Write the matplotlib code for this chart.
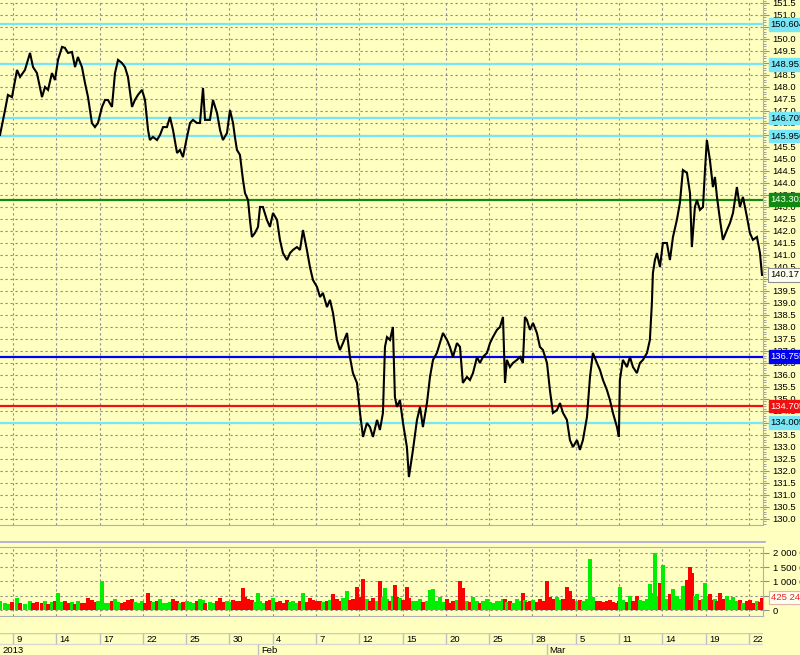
import numpy as np
import matplotlib
matplotlib.use('Agg')
import matplotlib.pyplot as plt
import matplotlib.transforms as mtransforms
from matplotlib.ticker import MultipleLocator, FixedLocator, FuncFormatter
from matplotlib.lines import Line2D

# time in trading days counted from 9 Jan 2013
t = [-0.90, -0.55, -0.35, -0.07, 0.28, 0.49, 0.83, 1.18, 1.39, 1.66,
     2.01, 2.22, 2.43, 2.70, 2.91, 3.12, 3.40, 3.60, 3.81, 4.09,
     4.30, 4.50, 4.78, 4.99, 5.20, 5.47, 5.68, 5.89, 6.17, 6.38,
     6.58, 6.86, 7.07, 7.28, 7.55, 7.76, 7.97, 8.25, 8.45, 8.66,
     8.94, 9.15, 9.36, 9.49, 9.70, 9.98, 10.19, 10.40, 10.67, 10.88,
     11.09, 11.37, 11.57, 11.78, 12.06, 12.27, 12.47, 12.75, 12.96, 13.17,
     13.31, 13.65, 13.86, 14.14, 14.35, 14.55, 14.83, 15.04, 15.25, 15.38,
     15.52, 15.73, 15.94, 16.08, 16.29, 16.42, 16.56, 16.77, 16.98, 17.12,
     17.32, 17.60, 17.81, 18.02, 18.30, 18.50, 18.71, 18.99, 19.20, 19.40,
     19.68, 19.89, 20.10, 20.37, 20.58, 20.79, 21.07, 21.28, 21.48, 21.76,
     21.97, 22.18, 22.45, 22.66, 22.87, 23.15, 23.35, 23.56, 23.84, 24.05,
     24.26, 24.53, 24.74, 24.95, 25.23, 25.43, 25.64, 25.78, 25.92, 26.13,
     26.33, 26.47, 26.61, 26.82, 27.03, 27.30, 27.44, 27.72, 28.00, 28.21,
     28.41, 28.69, 28.90, 29.11, 29.38, 29.59, 29.80, 30.08, 30.28, 30.49,
     30.77, 30.98, 31.18, 31.46, 31.67, 31.88, 32.16, 32.36, 32.57, 32.85,
     33.06, 33.26, 33.54, 33.75, 33.96, 34.10, 34.23, 34.44, 34.65, 34.93,
     35.14, 35.34, 35.48, 35.62, 35.83, 36.04, 36.31, 36.52, 36.73, 37.01,
     37.21, 37.42, 37.70, 37.91, 38.12, 38.39, 38.60, 38.81, 39.09, 39.29,
     39.50, 39.78, 39.99, 40.19, 40.47, 40.68, 40.89, 41.16, 41.37, 41.58,
     41.86, 41.99, 42.06, 42.27, 42.55, 42.76, 42.97, 43.24, 43.45, 43.66,
     43.94, 44.14, 44.28, 44.35, 44.49, 44.63, 44.84, 45.04, 45.32, 45.53,
     45.74, 46.01, 46.22, 46.43, 46.71, 46.92, 47.05, 47.26, 47.40, 47.61,
     47.82, 47.96, 48.09, 48.30, 48.51, 48.65, 48.79, 49.00, 49.20, 49.48,
     49.69, 49.90, 50.17, 50.38, 50.59, 50.87, 51.07, 51.28, 51.56, 51.77,
     51.91]

close = [146.00, 147.04, 147.67, 147.58, 148.71, 148.42, 148.71, 149.42, 148.83, 148.58,
         147.58, 148.00, 147.88, 148.58, 148.29, 149.13, 149.67, 149.63, 149.42, 149.46,
         148.83, 149.25, 148.83, 148.17, 147.58, 146.50, 146.33, 146.50, 147.17, 147.46,
         147.46, 147.17, 148.58, 149.13, 149.00, 148.83, 148.42, 147.17, 147.46, 147.67,
         147.88, 147.46, 146.21, 145.79, 145.92, 145.79, 146.00, 146.33, 146.33, 146.75,
         146.21, 145.25, 145.38, 145.08, 145.92, 146.50, 146.63, 146.50, 146.50, 147.96,
         146.63, 146.63, 147.46, 146.92, 146.21, 145.79, 146.08, 147.04, 146.50, 145.92,
         145.38, 145.17, 144.13, 143.58, 143.29, 142.46, 141.75, 141.92, 142.17, 143.00,
         143.00, 142.46, 142.17, 142.75, 142.46, 141.63, 141.08, 140.79, 141.08, 141.21,
         141.33, 141.21, 142.04, 141.21, 140.50, 139.96, 139.67, 139.25, 139.42, 138.83,
         139.13, 138.58, 137.46, 137.04, 137.33, 137.75, 136.75, 136.08, 135.67, 134.42,
         133.42, 134.00, 133.83, 133.42, 134.13, 133.71, 134.42, 137.17, 137.58, 137.46,
         138.00, 135.08, 134.67, 134.96, 134.00, 133.00, 131.75, 132.88, 134.13, 134.67,
         133.83, 134.83, 135.92, 136.63, 136.92, 137.33, 137.75, 137.46, 137.17, 136.75,
         137.33, 137.17, 135.67, 135.92, 135.79, 136.08, 136.75, 136.50, 136.75, 136.92,
         137.33, 137.58, 137.88, 138.00, 138.42, 135.67, 136.63, 136.33, 136.50, 136.63,
         136.75, 136.50, 138.42, 138.29, 137.88, 138.17, 137.75, 137.17, 137.04, 136.50,
         135.38, 134.42, 134.54, 134.83, 134.42, 134.13, 133.29, 133.00, 133.29, 132.88,
         133.29, 134.25, 135.92, 136.92, 136.50, 136.21, 135.79, 135.38, 134.96, 134.42,
         133.83, 133.42, 135.79, 136.63, 136.33, 136.75, 136.33, 136.08, 136.50, 136.63,
         136.92, 137.46, 139.00, 140.25, 140.79, 141.08, 140.50, 141.50, 141.50, 140.79,
         141.75, 142.46, 143.17, 144.54, 144.42, 143.58, 141.33, 143.00, 143.29, 142.88,
         143.00, 144.54, 145.79, 144.96, 143.83, 144.25, 143.42, 142.46, 141.63, 142.04,
         142.33, 142.75, 143.83, 143.00, 143.42, 142.58, 141.92, 141.63, 141.75, 141.08,
         140.17]

# volume, thousands of shares
volume_k = [300, 250, 220, 280, 420, 260, 200, 310, 240, 280,
            230, 300, 210, 270, 330, 600, 280, 320, 250, 290,
            220, 310, 260, 240, 420, 350, 280, 300, 1020, 260,
            230, 310, 400, 270, 250, 290, 350, 400, 280, 230,
            300, 260, 600, 320, 280, 300, 400, 260, 240, 280,
            400, 300, 250, 270, 330, 280, 240, 300, 380, 350,
            260, 280, 240, 300, 420, 270, 310, 280, 350, 260,
            330, 300, 770, 450, 380, 300, 350, 280, 600, 330,
            260, 300, 350, 420, 280, 310, 260, 340, 280, 300,
            250, 330, 600, 290, 420, 350, 300, 330, 280, 310,
            350, 550, 380, 320, 420, 670, 350, 400, 800, 450,
            1100, 380, 330, 420, 300, 1000, 450, 770, 380, 330,
            500, 880, 450, 420, 350, 800, 420, 330, 300, 380,
            280, 320, 700, 720, 300, 450, 280, 400, 250, 300,
            350, 1000, 780, 300, 280, 450, 300, 260, 330, 400,
            280, 250, 300, 330, 400, 380, 280, 300, 250, 400,
            300, 600, 350, 280, 300, 350, 280, 400, 330, 1000,
            450, 380, 450, 350, 400, 800, 650, 400, 330, 350,
            300, 400, 1780, 450, 300, 330, 280, 300, 350, 280,
            250, 300, 800, 350, 280, 500, 300, 500, 350, 300,
            400, 900, 600, 350, 2000, 500, 950, 1580, 400, 550,
            750, 500, 400, 850, 1050, 1500, 1300, 500, 550, 350,
            400, 950, 500, 550, 350, 400, 300, 600, 400, 500,
            350, 450, 300, 350, 250, 300, 350, 250, 300, 280,
            425.248]

day_ticks = [0, 3, 6, 9, 12, 15, 18, 21, 24, 27, 30, 33, 36, 39, 42, 45, 48, 51]
day_labels = ['9', '14', '17', '22', '25', '30', '4', '7', '12', '15',
              '20', '25', '28', '5', '11', '14', '19', '22']
month_starts = [-0.9, 17, 37]
month_labels = ['2013', 'Feb', 'Mar']

levels = [150.6045, 148.9518, 146.7057, 145.9563, 143.3029, 136.7559, 134.7058, 134.0053]
level_kinds = ['cyan', 'cyan', 'cyan', 'cyan', 'green', 'blue', 'red', 'cyan']

BG = '#FFFFC0'
GRID = '#8c8c8c'
BORDER = '#b0b0b0'
kind_style = {
    'cyan': ('#78E6F6', 'black'),
    'green': ('#108a10', 'white'),
    'blue': ('#0000EE', 'white'),
    'red': ('#F01010', 'white'),
}
FS = 6.8

plt.rcParams['font.family'] = ['Liberation Sans Narrow', 'Liberation Sans', 'DejaVu Sans']
plt.rcParams['font.size'] = FS

W, H = 800, 655


def px_rect(x0, y0, x1, y1):
    return [x0 / W, 1 - y1 / H, (x1 - x0) / W, (y1 - y0) / H]


fig = plt.figure(figsize=(W / 100, H / 100), dpi=100, facecolor=BG)
ax = fig.add_axes(px_rect(0, 0, 763, 525), facecolor=BG)
axv = fig.add_axes(px_rect(0, 547, 763, 616), facecolor=BG, sharex=ax)
axd = fig.add_axes(px_rect(0, 633, 763, 655), facecolor=BG, sharex=ax)

# --- price panel
ax.plot(t, close, color='black', lw=1.5, solid_joinstyle='miter', zorder=4)
ax.set_xlim(-0.9, 51.98)
ax.set_ylim(129.75, 151.625)
ax.yaxis.tick_right()
ax.yaxis.set_major_locator(MultipleLocator(0.5))
ax.yaxis.set_minor_locator(MultipleLocator(0.1))
ax.yaxis.set_major_formatter(FuncFormatter(lambda v, p: f'{v:.1f}'))
ax.set_xticks(day_ticks)
ax.tick_params(axis='x', length=0, labelbottom=False)
ax.tick_params(axis='y', which='major', length=4, pad=3, color='#909090', labelsize=FS)
ax.tick_params(axis='y', which='minor', length=2, color='#909090')
ax.grid(True, which='major', color=GRID, linestyle=(0, (2, 2.5)), lw=0.8)
for s in ['left', 'top']:
    ax.spines[s].set_visible(False)
for s in ['right', 'bottom']:
    ax.spines[s].set_color(BORDER)

lbl_tr = mtransforms.blended_transform_factory(ax.transAxes, ax.transData)
for lv, kind in zip(levels, level_kinds):
    col, tcol = kind_style[kind]
    ax.axhline(lv, color=col, lw=1.6, zorder=3)
    ax.text(1.010, lv, f'{lv:.4f}', transform=lbl_tr, ha='left', va='center',
            color=tcol, fontsize=FS, clip_on=False, zorder=6,
            bbox=dict(boxstyle='square,pad=0.2', fc=col, ec=col))

ax.text(1.010, close[-1], f'{close[-1]:.2f}', transform=lbl_tr, ha='left', va='center',
        color='black', fontsize=FS, clip_on=False, zorder=6,
        bbox=dict(boxstyle='square,pad=0.25', fc='#FFFFF0', ec='#909090', lw=0.8))

# --- volume panel
vol = np.array(volume_k) * 1000
up = np.diff(np.array(close), prepend=close[0]) >= 0
bar_colors = np.where(up, '#00EE00', '#FF0000')
axv.bar(t, vol, width=0.23, color=bar_colors, linewidth=0, zorder=3)
axv.set_ylim(-210000, 2205000)
axv.yaxis.tick_right()
axv.yaxis.set_major_locator(FixedLocator([0, 500000, 1000000, 1500000, 2000000]))
axv.yaxis.set_major_formatter(FuncFormatter(lambda v, p: f'{int(v):,}'.replace(',', ' ')))
axv.tick_params(axis='x', length=0, labelbottom=False)
axv.tick_params(axis='y', length=4, pad=3, color='#909090', labelsize=FS)
axv.grid(True, color=GRID, linestyle=(0, (2, 2.5)), lw=0.8)
axv.spines['left'].set_visible(False)
for s in ['right', 'bottom', 'top']:
    axv.spines[s].set_color(BORDER)
vtr = mtransforms.blended_transform_factory(axv.transAxes, axv.transData)
axv.text(1.010, vol[-1], f'{int(round(vol[-1])):,}'.replace(',', ' '), transform=vtr,
         ha='left', va='center', color='#F02020', fontsize=FS, clip_on=False, zorder=6,
         bbox=dict(boxstyle='square,pad=0.2', fc='#FFFFF0', ec='#e8b0b0', lw=0.8))

# separator between panels
fig.add_artist(Line2D([0, 765 / W], [1 - 542 / H, 1 - 542 / H], color='#a8a8d8', lw=1.2))

# --- date strip
axd.set_ylim(0, 2)
axd.axis('off')
axd.axhline(2, color='#c8c8c8', lw=1)
axd.axhline(1, color='#d8d8d8', lw=1)
axd.vlines(day_ticks, 1, 2, color='#c0c0c0', lw=1)
for d, lab in zip(day_ticks, day_labels):
    axd.text(d + 0.24, 1.45, lab, ha='left', va='center', fontsize=FS)
axd.vlines(month_starts[1:], 0, 1, color='#c0c0c0', lw=1)
for m, lab in zip(month_starts, month_labels):
    axd.text(m + 0.2, 0.45, lab, ha='left', va='center', fontsize=FS)

fig.savefig('out.png', dpi=100, facecolor=BG)
